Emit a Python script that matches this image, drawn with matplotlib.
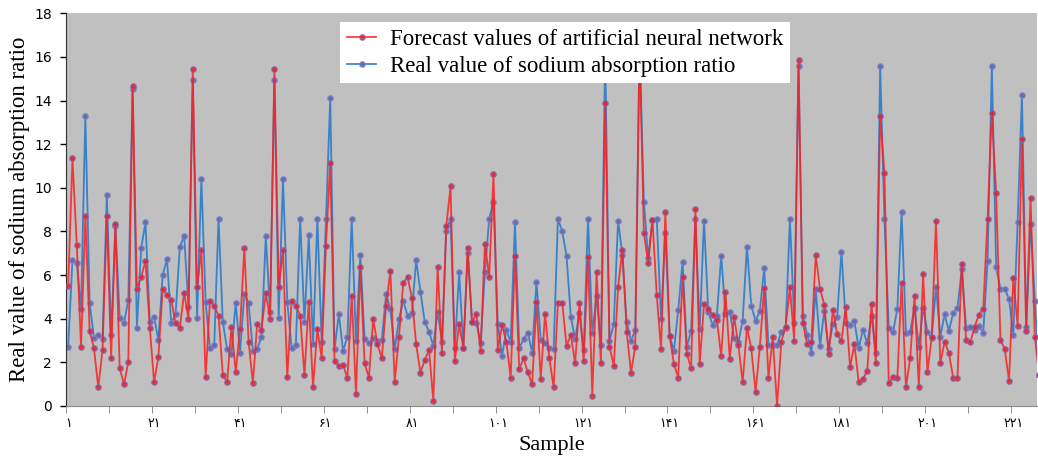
import numpy as np
import matplotlib.pyplot as plt
from matplotlib.ticker import FixedLocator

forecast = [
  5.50, 11.35, 7.39, 2.71, 8.69, 3.43, 2.66, 0.86, 2.57, 8.69,
  2.19, 8.36, 1.73, 0.99, 2.02, 14.65, 5.37, 5.92, 6.65, 3.58,
  1.09, 2.25, 5.34, 5.11, 4.86, 3.79, 3.59, 5.20, 3.99, 15.44,
  5.44, 7.13, 1.31, 4.82, 4.60, 4.14, 1.42, 1.10, 3.62, 1.56,
  3.53, 7.22, 2.95, 1.06, 3.78, 3.49, 5.17, 3.99, 15.44, 5.44,
  7.13, 1.31, 4.82, 4.60, 4.14, 1.42, 4.77, 0.86, 3.55, 2.19,
  7.35, 11.13, 2.06, 1.83, 1.88, 1.27, 5.06, 0.54, 6.35, 1.96,
  1.30, 3.99, 2.83, 2.19, 4.60, 6.19, 1.09, 3.17, 5.66, 5.90,
  4.97, 2.83, 1.53, 2.11, 2.57, 0.23, 6.36, 2.42, 8.23, 10.06,
  2.06, 3.75, 2.65, 7.26, 3.84, 4.22, 2.52, 7.42, 5.93, 10.63,
  2.57, 3.69, 2.95, 1.27, 6.88, 1.68, 2.19, 1.54, 0.99, 4.76,
  1.22, 4.22, 2.19, 0.86, 4.74, 4.74, 2.75, 3.26, 1.96, 4.74,
  2.06, 6.85, 0.47, 6.16, 1.96, 13.88, 2.72, 1.83, 5.44, 7.16,
  3.41, 1.53, 2.72, 16.5, 7.95, 6.54, 8.53, 5.09, 2.61, 8.88,
  3.21, 1.93, 1.30, 5.93, 2.39, 1.73, 9.04, 1.93, 4.66, 4.45,
  4.17, 3.94, 2.29, 5.24, 2.16, 4.10, 2.80, 1.09, 3.59, 2.65,
  0.63, 2.72, 5.40, 1.30, 3.15, 0.00, 2.95, 3.64, 5.44, 2.98,
  15.87, 3.82, 2.83, 2.95, 6.90, 5.38, 4.65, 2.37, 4.42, 3.30,
  2.98, 4.56, 1.77, 2.84, 1.10, 1.24, 1.61, 4.69, 1.96, 13.29,
  10.70, 1.04, 1.35, 1.28, 5.66, 0.86, 2.19, 5.06, 0.86, 6.07,
  1.54, 3.15, 8.50, 1.96, 2.95, 2.42, 1.30, 1.30, 6.53, 3.03,
  2.92, 3.64, 4.19, 4.45, 8.58, 13.42, 9.76, 3.03, 2.61, 1.15,
  5.86, 3.67, 12.22, 3.44, 9.53, 3.18, 1.40]

real = [
  2.72, 6.67, 6.57, 4.45, 13.29, 4.71, 3.12, 3.26, 3.07, 9.65,
  3.24, 8.24, 4.04, 3.81, 4.86, 14.53, 3.58, 7.22, 8.43, 3.84,
  4.10, 3.01, 6.01, 6.73, 3.79, 4.22, 7.31, 7.78, 4.56, 14.94,
  4.04, 10.40, 4.77, 2.66, 2.80, 8.59, 3.84, 2.61, 2.40, 4.74,
  2.43, 5.15, 4.72, 2.52, 2.61, 3.18, 7.77, 4.30, 14.94, 4.04,
  10.40, 4.77, 2.66, 2.80, 8.59, 3.84, 7.83, 2.83, 8.59, 2.94,
  8.59, 14.11, 2.60, 4.22, 2.52, 3.18, 8.59, 2.98, 6.93, 3.07,
  2.87, 3.10, 2.98, 3.03, 5.12, 4.43, 2.60, 3.99, 4.82, 4.13,
  4.27, 6.67, 5.24, 3.85, 3.41, 2.75, 4.33, 2.95, 8.00, 8.59,
  2.65, 6.12, 2.65, 7.03, 3.84, 3.82, 2.87, 6.12, 8.59, 9.37,
  3.78, 2.29, 3.49, 2.92, 8.41, 2.65, 3.07, 3.36, 2.45, 5.70,
  3.03, 2.91, 2.65, 2.60, 8.59, 8.00, 6.88, 4.07, 3.07, 4.28,
  2.57, 8.59, 3.36, 5.02, 2.80, 16.2, 2.98, 3.76, 8.49, 6.93,
  3.84, 2.98, 3.49, 16.6, 9.37, 6.77, 8.53, 8.58, 3.99, 7.92,
  3.21, 2.54, 4.40, 6.62, 2.72, 3.44, 8.58, 3.53, 8.50, 4.30,
  3.72, 4.14, 6.88, 4.22, 4.33, 3.13, 2.92, 3.91, 7.31, 4.60,
  3.90, 4.37, 6.31, 2.80, 2.80, 2.80, 3.41, 3.59, 8.58, 3.82,
  15.60, 4.14, 3.26, 2.42, 5.38, 2.75, 4.37, 2.61, 3.78, 4.08,
  7.08, 3.82, 3.72, 3.90, 2.65, 3.49, 2.87, 4.14, 2.42, 15.60,
  8.58, 3.56, 3.38, 4.45, 8.88, 3.33, 3.41, 4.51, 2.72, 4.51,
  3.41, 3.13, 5.44, 3.18, 4.20, 3.44, 4.25, 4.48, 6.28, 3.59,
  3.64, 3.49, 3.67, 3.36, 6.65, 15.60, 6.35, 5.38, 5.38, 4.89,
  3.26, 8.41, 14.27, 3.64, 8.33, 4.82, 1.40]

sample = np.arange(1, len(real) + 1)
label_pos = list(range(1, 222, 20))
label_txt = ['۱', '۲۱', '۴۱', '۶۱', '۸۱', '۱۰۱', '۱۲۱', '۱۴۱', '۱۶۱', '۱۸۱', '۲۰۱', '۲۲۱']

plt.rcParams['font.family'] = ['Liberation Serif', 'DejaVu Serif']

fig = plt.figure(figsize=(10.38, 4.57), dpi=100)
ax = fig.add_axes([0.0636, 0.1116, 0.9354, 0.8594])
ax.set_facecolor('#C0C0C0')

ax.plot(sample, real, '-o', color='#2A7BCB', lw=1.3, alpha=0.9,
        ms=4, mfc='#5B6CB0', mec='#8C7FC4', mew=0.8, zorder=2,
        label='Real value of sodium absorption ratio')
ax.plot(sample, forecast, '-o', color='#FF1E1E', lw=1.3, alpha=0.85,
        ms=4, mfc='#E8202A', mec='#7B6BB5', mew=0.8, zorder=3,
        label='Forecast values of artificial neural network')

ax.set_xlim(0.5, 226.5)
ax.set_ylim(0, 18)
ax.set_yticks(range(0, 19, 2))
ax.tick_params(axis='y', direction='out', length=4, width=1, labelsize=10, pad=6)
for t in ax.get_yticklabels():
    t.set_family('DejaVu Sans')

ax.xaxis.set_major_locator(FixedLocator(label_pos))
ax.set_xticklabels(label_txt, family='DejaVu Sans', fontsize=9)
ax.xaxis.set_minor_locator(FixedLocator(np.arange(0.5, 227, 10)))
ax.tick_params(axis='x', which='major', length=0, pad=8)
ax.tick_params(axis='x', which='minor', length=5, color='#808080', direction='out')

for s in ['top', 'right']:
    ax.spines[s].set_visible(False)
ax.spines['left'].set_color('#303030')
ax.spines['bottom'].set_color('#8A8A8A')

ax.set_xlabel('Sample', fontsize=16, labelpad=4)
ax.set_ylabel('Real value of sodium absorption ratio', fontsize=16.5, labelpad=3)

h, l = ax.get_legend_handles_labels()
leg = ax.legend(h[::-1], l[::-1], loc='upper left', bbox_to_anchor=(0.282, 0.978),
                fontsize=16.5, frameon=True, fancybox=False, framealpha=1,
                borderaxespad=0, handlelength=1.3, borderpad=0.3,
                labelspacing=0.25, handletextpad=0.6)
leg.get_frame().set_edgecolor('white')
leg.get_frame().set_linewidth(0)

fig.savefig('out.png', dpi=100)
